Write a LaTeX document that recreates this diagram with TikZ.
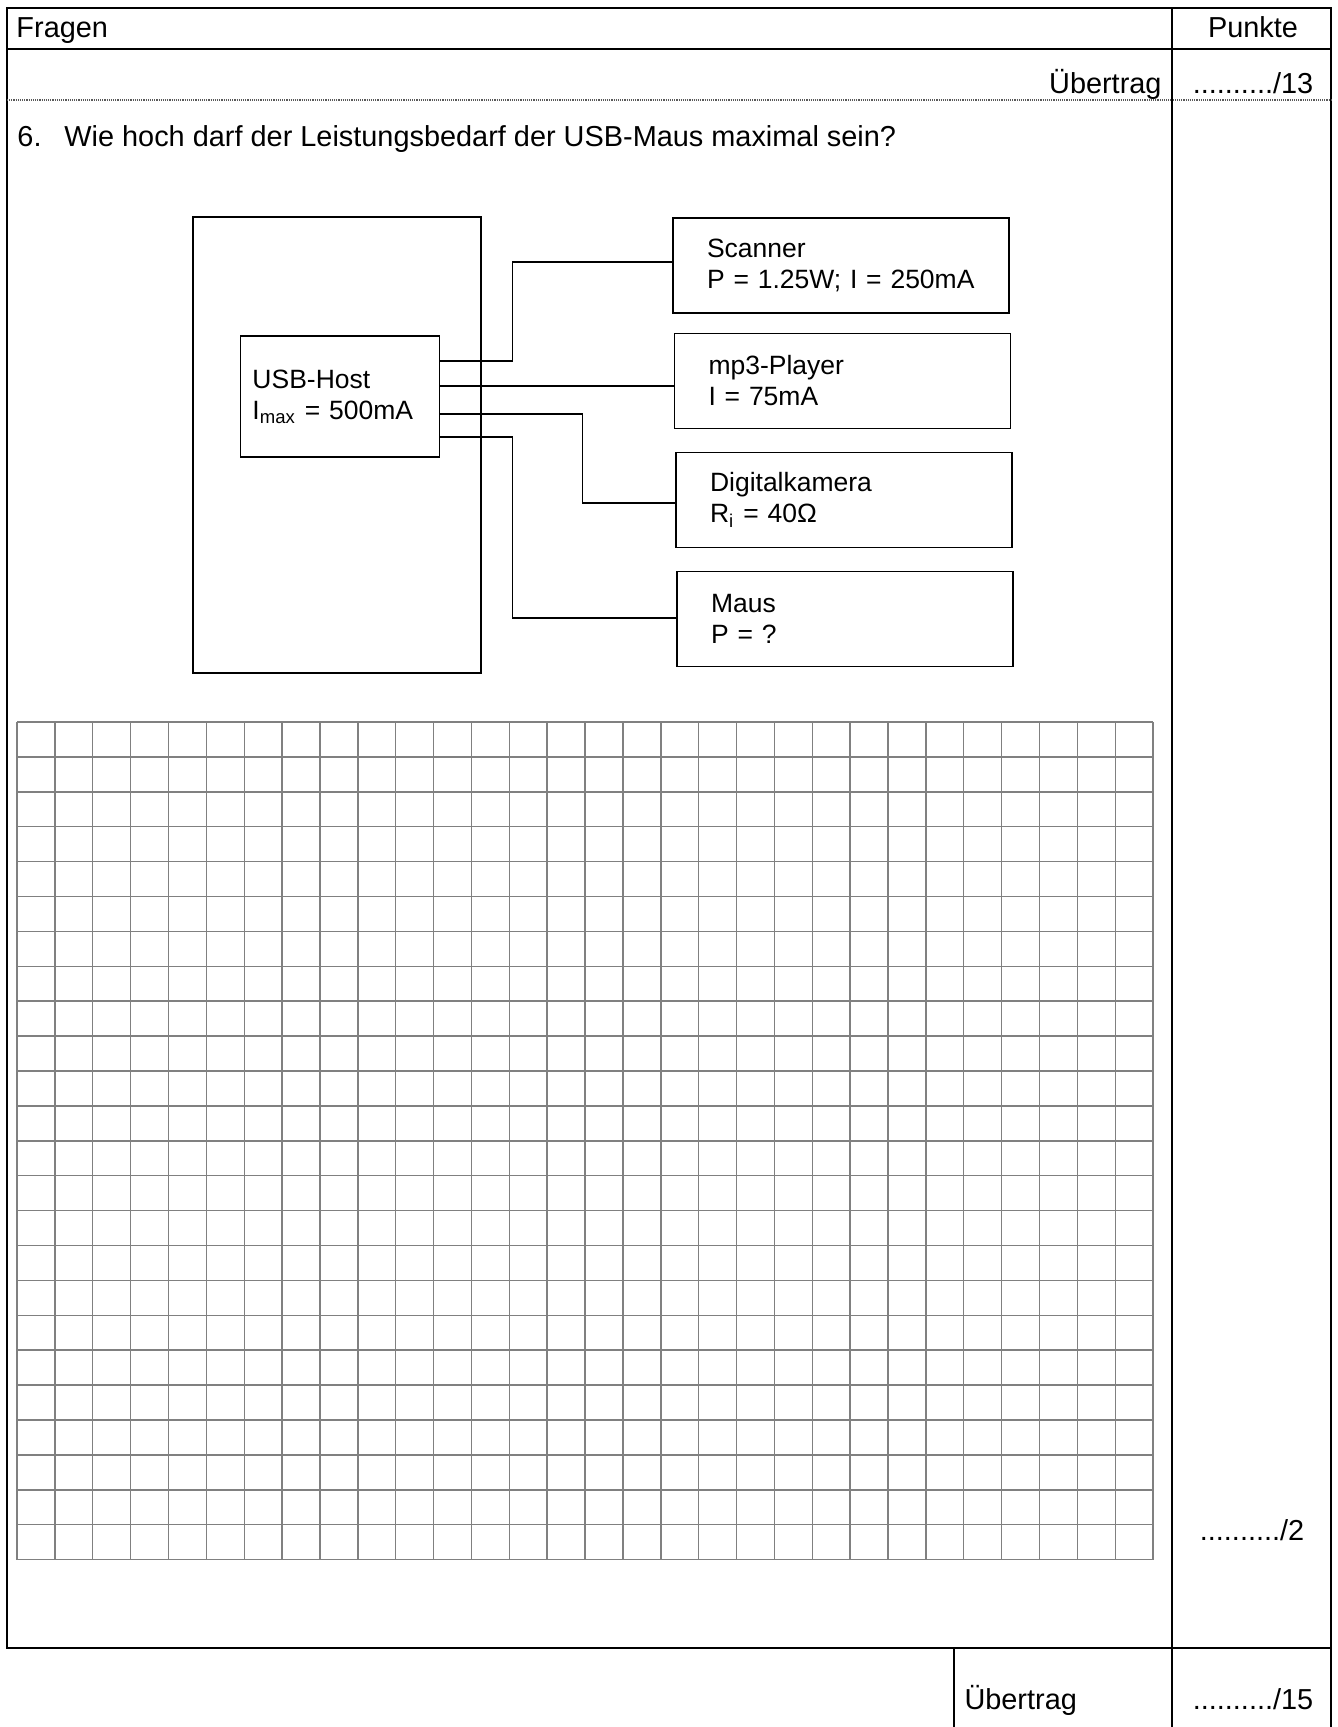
\documentclass[tikz,border=0pt]{standalone}
\usepackage{fontspec}
\setmainfont{Liberation Sans}
\usetikzlibrary{positioning}

\tikzset{
 frame/.style={line width=0.85pt},
 dotline/.style={line width=0.6pt, black!65, dash pattern=on 0.45pt off 0.45pt},
 box/.style={draw, rectangle, line width=0.7pt, inner sep=0pt},
 devbox/.style={box, align=left, text width=111.3pt, inner xsep=14.1pt,
   minimum height=39.5pt, font=\fontsize{11}{12.9}\selectfont},
 hostbox/.style={box, align=left, text width=72.7pt, inner xsep=5pt,
   minimum height=50.3pt, font=\fontsize{11}{12.9}\selectfont},
 wire/.style={line width=0.7pt},
 gridline/.style={line width=0.6pt, black!50},
 lbl/.style={inner sep=0pt}
}

\begin{document}
\begin{tikzpicture}[x=0.4154pt, y=-0.4154pt, font=\fontsize{12}{14}\selectfont]
 \useasboundingbox (0,0) rectangle (1337,1727);
 % Tabelle
 \draw[frame] (7,8) rectangle (1331,1648);
 \draw[frame] (7,49) -- (1331,49);
 \draw[dotline] (7,100) -- (1331,100);
 \draw[frame] (1172,8) -- (1172,1727);
 \draw[frame] (1331,1648) -- (1331,1727);
 \draw[frame] (954,1648) -- (954,1727);
 \node[lbl, anchor=base west] (fragen) at (16,38) {Fragen};
 \node[lbl, anchor=base] (punkte) at (1253,38) {Punkte};
 \node[lbl, anchor=base east] (uebertrag) at (1162,94) {Übertrag};
 \node[lbl, anchor=base] (summe) at (1253,94) {........../13};
 \node[lbl, anchor=base west] (frage) at (17,147)
   {\makebox[19.5pt][l]{6.}Wie hoch darf der Leistungsbedarf der USB-Maus maximal sein?};
 \node[lbl, anchor=base] (punkte6) at (1252,1540) {........../2};
 \node[lbl, anchor=base west] (uebertragneu) at (964,1709) {Übertrag};
 \node[lbl, anchor=base] (summeneu) at (1253,1709) {........../15};

 % Schaltbild
 \node[box, minimum width=119.6pt, minimum height=189.4pt] (pc) at (337,445) {};
 \node[hostbox] (host) at (340,396.5) {USB-Host\\I\textsubscript{max} = 500mA};
 \node[devbox] (scanner) at (841,265.5) {Scanner\\P = 1.25W; I = 250mA};
 \node[devbox] (mp3) at (842.5,381) {mp3-Player\\I = 75mA};
 \node[devbox] (kamera) at (844,500) {Digitalkamera\\R\textsubscript{i} = 40Ω};
 \node[devbox] (maus) at (845,619) {Maus\\P = ?};
 \draw[wire] (host.east |- 0,361) -- ++(72,0) |- (scanner.west |- 0,262);
 \draw[wire] (host.east |- 0,386) -- (mp3.west |- 0,386);
 \draw[wire] (host.east |- 0,414) -- ++(142,0) |- (kamera.west |- 0,503);
 \draw[wire] (host.east |- 0,437) -- ++(72,0) |- (maus.west |- 0,618);

 % Rechenkaestchen
 \foreach \i in {0,...,30}
   \draw[gridline] ({17+37.87*\i},722) -- ({17+37.87*\i},1560);
 \foreach \j in {0,...,24}
   \draw[gridline] (17,{722+34.9*\j}) -- (1153,{722+34.9*\j});
\end{tikzpicture}
\end{document}
